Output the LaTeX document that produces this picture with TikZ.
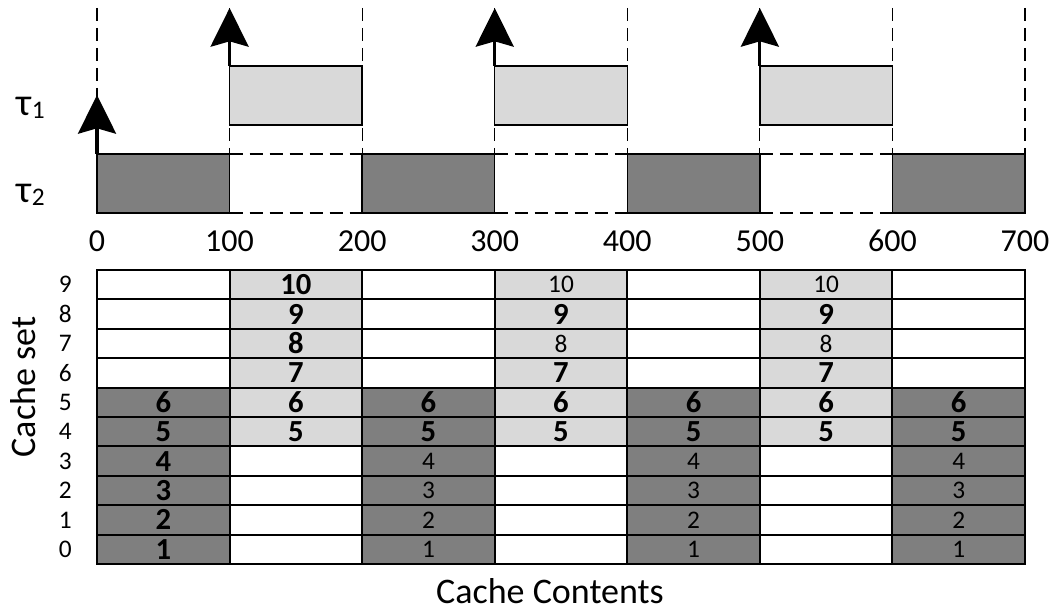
\documentclass[tikz,border=0pt]{standalone}
\usepackage{fontspec}
\setmainfont{Carlito}
\usetikzlibrary{arrows.meta}

\definecolor{taskone}{HTML}{D9D9D9}
\definecolor{tasktwo}{HTML}{7F7F7F}

\newcommand{\taskname}[1]{{\fontsize{29}{30}\selectfont τ}{\fontsize{19}{19}\selectfont\raisebox{-2.5pt}{#1}}}

\begin{document}
\begin{tikzpicture}[x=0.9943pt, y=-0.75pt,
    cell/.style={draw=black, line width=1.4pt, minimum width=99.4pt, minimum height=22.05pt,
                 inner sep=0pt, outer sep=0pt, font=\fontsize{19}{19}\selectfont},
    hit/.style={font=\fontsize{23}{23}\selectfont\bfseries},
    miss/.style={},
    job/.style={draw=black, line width=1.1pt, minimum width=99.4pt, minimum height=44.25pt,
                inner sep=0pt, outer sep=0pt},
    release/.style={-{Stealth[length=29pt, width=28.5pt, inset=4pt]}, line width=2.3pt},
    period/.style={dash pattern=on 10pt off 5pt, line width=0.9pt},
    tick/.style={font=\fontsize{24}{26}\selectfont},
    title/.style={font=\fontsize{27}{30}\selectfont}]

    \useasboundingbox (-73.17,0) rectangle (720.38,614);

    % period boundaries
    \foreach \t in {0,100,...,700}
        \draw[period] (\t,8) -- (\t,154);

    % tau_2 idle slots
    \foreach \t in {100,300,500}{
        \draw[period] (\t,154) -- (\t+100,154);
        \draw[period] (\t,213) -- (\t+100,213);
    }

    % jobs
    \foreach \t in {100,300,500}
        \node[job, fill=taskone] (a\t) at (\t+50,95.5) {};
    \foreach \t in {0,200,400,600}
        \node[job, fill=tasktwo] (b\t) at (\t+50,183.5) {};

    % releases
    \draw[release] (b0.north west) -- ++(0,-59);
    \foreach \t in {100,300,500}
        \draw[release] (a\t.north west) -- ++(0,-58);

    \node (tau1) at (-50,108) {\taskname{1}};
    \node (tau2) at (-50,195) {\taskname{2}};

    \foreach \t in {0,100,...,700}
        \node[tick] (t\t) at (\t,241) {\t};

    % cache contents
    \foreach \c in {0,2,4,6}
        \foreach \r in {6,...,9}
            \node[cell] (c\c-\r) at ({100*\c+50},{564-29.4*(\r+0.5)}) {};
    \foreach \c in {1,3,5}
        \foreach \r in {0,...,3}
            \node[cell] (c\c-\r) at ({100*\c+50},{564-29.4*(\r+0.5)}) {};
    \foreach \r/\l in {0/1,1/2,2/3,3/4,4/5,5/6}
        \node[cell, fill=tasktwo, hit] (c0-\r) at (50,{564-29.4*(\r+0.5)}) {\l};
    \foreach \c in {2,4,6}
        \foreach \r/\l/\w in {0/1/miss,1/2/miss,2/3/miss,3/4/miss,4/5/hit,5/6/hit}
            \node[cell, fill=tasktwo, \w] (c\c-\r) at ({100*\c+50},{564-29.4*(\r+0.5)}) {\l};
    \foreach \r/\l in {4/5,5/6,6/7,7/8,8/9,9/10}
        \node[cell, fill=taskone, hit] (c1-\r) at (150,{564-29.4*(\r+0.5)}) {\l};
    \foreach \c in {3,5}
        \foreach \r/\l/\w in {4/5/hit,5/6/hit,6/7/hit,7/8/miss,8/9/hit,9/10/miss}
            \node[cell, fill=taskone, \w] (c\c-\r) at ({100*\c+50},{564-29.4*(\r+0.5)}) {\l};

    \foreach \r in {0,...,9}
        \node[font=\fontsize{19}{19}\selectfont] (s\r) at (-24,{564-29.4*(\r+0.5)}) {\r};

    \node[title, rotate=90] (ylab) at (-55.4,387) {Cache set};
    \node[title] (xlab) at (341.7,591) {Cache Contents};
\end{tikzpicture}
\end{document}
